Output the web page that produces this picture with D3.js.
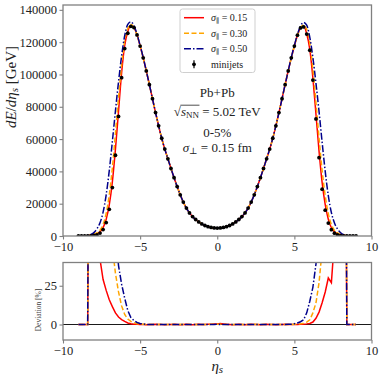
<!DOCTYPE html>
<html>
<head>
<meta charset="utf-8">
<script src="https://cdn.jsdelivr.net/npm/d3@7/dist/d3.min.js"></script>
<style>
body { margin: 0; background: #fff; }
svg text { font-family: "Liberation Serif", "DejaVu Serif", serif; fill: #222; }
</style>
</head>
<body>
<script>
"use strict";

/*global d3*/

// pseudorapidity grid shared by every series
var eta = [
    -9, -8.8, -8.6, -8.4, -8.2, -8, -7.8, -7.6, -7.4, -7.2, -7, -6.8, -6.6, -6.4, -6.2,
    -6, -5.8, -5.6, -5.4, -5.2, -5, -4.8, -4.6, -4.4, -4.2, -4, -3.8, -3.6, -3.4, -3.2,
    -3, -2.8, -2.6, -2.4, -2.2, -2, -1.8, -1.6, -1.4, -1.2, -1, -0.8, -0.6, -0.4, -0.2,
    0,
    0.2, 0.4, 0.6, 0.8, 1, 1.2, 1.4, 1.6, 1.8, 2, 2.2, 2.4, 2.6, 2.8, 3,
    3.2, 3.4, 3.6, 3.8, 4, 4.2, 4.4, 4.6, 4.8, 5, 5.2, 5.4, 5.6, 5.8, 6,
    6.2, 6.4, 6.6, 6.8, 7, 7.2, 7.4, 7.6, 7.8, 8, 8.2, 8.4, 8.6, 8.8, 9
],

    minijets = [
	0, 0, 0, 0, 100, 300, 750, 1800, 4000, 8300, 16500, 30000, 50000, 74000, 98000,
	116000, 125500, 129800, 129000, 124500, 117600, 110300, 102200, 93700, 85000, 76400, 68200, 60500, 53800, 47800,
	41800, 36100, 30600, 25500, 21000, 17300, 14300, 12000, 10200, 8700, 7500, 6500, 5800, 5300, 5000,
	4900,
	5000, 5300, 5800, 6500, 7500, 8700, 10200, 12000, 14300, 17300, 21000, 25500, 30600, 36100, 41800,
	47800, 53800, 60500, 68200, 76400, 85000, 93700, 102200, 110300, 117600, 124300, 128800, 129400, 125000, 115000,
	96500, 72500, 48500, 29000, 16000, 8000, 3900, 1750, 700, 280, 90, 0, 0, 0, 0
    ],

    sigma015 = [
	0, 0, 0, 100, 400, 900, 1400, 2600, 5200, 10300, 19200, 33500, 53800, 77300, 101000,
	118000, 126600, 130300, 129000, 124500, 117600, 110300, 102200, 93700, 85000, 76400, 68200, 60500, 53800, 47800,
	41800, 36100, 30600, 25500, 21000, 17300, 14300, 12000, 10200, 8700, 7500, 6500, 5800, 5300, 5000,
	4900,
	5000, 5300, 5800, 6500, 7500, 8700, 10200, 12000, 14300, 17300, 21000, 25500, 30600, 36100, 41800,
	47800, 53800, 60500, 68200, 76400, 85000, 93700, 102200, 110300, 117600, 124300, 128800, 129800, 125200, 115500,
	97800, 75400, 52400, 33000, 19400, 10400, 5100, 2600, 1400, 900, 400, 100, 0, 0, 0
    ],

    sigma030 = [
	0, 0, 0, 150, 500, 1100, 2000, 3600, 7200, 14000, 25500, 42000, 63500, 85500, 106000,
	121000, 128500, 131000, 129300, 124500, 117600, 110300, 102200, 93700, 85000, 76400, 68200, 60500, 53800, 47800,
	41800, 36100, 30600, 25500, 21000, 17300, 14300, 12000, 10200, 8700, 7500, 6500, 5800, 5300, 5000,
	4900,
	5000, 5300, 5800, 6500, 7500, 8700, 10200, 12000, 14300, 17300, 21000, 25500, 30600, 36100, 41800,
	47800, 53800, 60500, 68200, 76400, 85000, 93700, 102200, 110300, 117600, 124300, 129000, 130600, 127800, 119500,
	103500, 82500, 60500, 40500, 24800, 13800, 7000, 3500, 1900, 1100, 500, 150, 0, 0, 0
    ],

    sigma050 = [
	0, 0, 100, 350, 900, 2100, 4400, 8200, 14800, 25500, 40500, 58500, 77500, 95500, 111500,
	124000, 131000, 132600, 130200, 124800, 118000, 110500, 102200, 93700, 85000, 76400, 68200, 60500, 53800, 47800,
	41800, 36100, 30600, 25500, 21000, 17300, 14300, 12000, 10200, 8700, 7500, 6500, 5800, 5300, 5000,
	4900,
	5000, 5300, 5800, 6500, 7500, 8700, 10200, 12000, 14300, 17300, 21000, 25500, 30600, 36100, 41800,
	47800, 53800, 60500, 68200, 76400, 85000, 93700, 102200, 110500, 118000, 124800, 130000, 132200, 130500, 123000,
	110500, 94500, 77000, 58000, 40000, 25000, 14500, 8000, 4300, 2000, 850, 320, 90, 0, 0
    ],

    // deviation of each sigma_par curve from the minijets, in %
    dev015 = [
	0, 0, 0, 0, 350, 200, 90, 42, 29, 22, 16, 11.5, 7.5, 4.8, 3.2,
	2, 1, 0.5, 0.2, 0.1, 0, 0, -0.1, 0, 0, 0.1, 0, 0, -0.1, 0,
	0, 0.1, 0, -0.1, 0, 0.1, 0, -0.1, 0, 0.1, 0, 0, 0.1, 0.2, 0.3,
	0.4,
	0.6, 0.4, 0.1, 0, -0.1, 0, 0.1, 0, -0.1, 0, 0.1, 0, 0, -0.1, 0,
	0.1, 0, 0, -0.1, 0, 0, 0.1, 0, 0, 0, 0, 0.1, 0.2, 0.4, 0.7,
	1.6, 4, 8, 14, 21, 30, 27, 55, 110, 220, 350, 0, 0, 0, 0
    ],

    dev030 = [
	0, 0, 0, 0, 1500, 900, 400, 220, 140, 95, 70, 50, 33, 21, 12,
	6.5, 3.5, 2, 1.1, 0.5, 0.2, 0.1, 0, 0, 0, 0, 0, 0.1, 0, 0,
	0, 0, 0, 0.1, 0, 0, 0, 0, 0, 0, 0, 0, 0, 0.1, 0.1,
	0.2,
	0.2, 0.1, 0, 0, 0, 0, 0, 0, 0, 0, 0, 0.1, 0, 0, 0,
	0, 0, 0, 0, 0, 0, 0, 0, 0, 0.1, 0.2, 0.4, 0.8, 1.5, 3,
	7.5, 14, 27, 48, 80, 130, 200, 300, 450, 700, 1500, 0, 0, 0, 0
    ],

    dev050 = [
	0, 0, 0, 0, 2500, 1800, 1200, 800, 500, 300, 180, 100, 60, 38, 26,
	17, 9, 4.5, 2.5, 1.3, 0.7, 0.3, 0.1, 0, 0, 0, 0, 0, 0, 0,
	0, 0, 0, 0, 0, 0, 0, 0, 0, 0, 0, 0, 0, 0, 0,
	0.1,
	0, 0, 0, 0, 0, 0, 0, 0, 0, 0, 0, 0, 0, 0, 0,
	0, 0, 0, 0, 0, 0, 0, 0.1, 0.2, 0.5, 1, 1.8, 3, 7.5, 15,
	24, 39, 62, 100, 160, 250, 380, 550, 800, 1200, 2500, 0, 0, 0, 0
    ],

    xTicks = [-10, -5, 0, 5, 10],
    yTicks = [0, 20000, 40000, 60000, 80000, 100000, 120000, 140000],
    devTicks = [0, 25],

    width = 382,
    height = 377,
    plotLeft = 63,
    plotRight = 371.5,
    spineColour = "#808080",

    series = [
	{label: "0.15", values: sigma015, deviation: dev015, colour: "#ff0000", dash: null},
	{label: "0.30", values: sigma030, deviation: dev030, colour: "#ffa500", dash: "5,2.5"},
	{label: "0.50", values: sigma050, deviation: dev050, colour: "#00008b", dash: "7,2,1.5,2"}
    ];

var svg = d3.select("body").append("svg")
	.attr("width", width)
	.attr("height", height);

var x = d3.scaleLinear().domain([-10, 10]).range([plotLeft, plotRight]),
    yTop = d3.scaleLinear().domain([0, 143000]).range([236, 5]),
    yDev = d3.scaleLinear().domain([-10, 40]).range([340, 262.5]);

/*
 Writes a piece of math-ish text: each part is [string, style] where style is
 "i" (italic), "sub" (subscript), "subi" (italic subscript) or "" (upright).
 */
var mathText = function(textSel, parts, subSize) {
    parts.forEach(function(p) {
	var t = textSel.append("tspan").text(p[0]);
	if (p[1] === "i" || p[1] === "subi") {
	    t.attr("font-style", "italic");
	}
	if (p[1] === "sub" || p[1] === "subi") {
	    t.attr("baseline-shift", "-22%")
		.attr("font-size", subSize);
	}
    });
    return textSel;
};

var minus = function(d) {
    return d < 0 ? "\u2212" + Math.abs(d) : String(d);
};

var makePanel = function(name, yScale, yTickValues) {
    var g = svg.append("g").attr("class", name),
	y0 = yScale.range()[1],
	y1 = yScale.range()[0];

    svg.append("clipPath")
	.attr("id", "clip-" + name)
	.append("rect")
	.attr("x", plotLeft)
	.attr("y", y0)
	.attr("width", plotRight - plotLeft)
	.attr("height", y1 - y0);

    var yAxis = g.append("g")
	    .attr("transform", "translate(" + plotLeft + ",0)")
	    .call(d3.axisLeft(yScale)
		  .tickValues(yTickValues)
		  .tickSize(3.5)
		  .tickPadding(2.5)
		  .tickFormat(d3.format("d")));

    var xAxis = g.append("g")
	    .attr("transform", "translate(0," + y1 + ")")
	    .call(d3.axisBottom(x)
		  .tickValues(xTicks)
		  .tickSize(3.5)
		  .tickPadding(3)
		  .tickFormat(minus));

    [xAxis, yAxis].forEach(function(a) {
	a.attr("color", "#222");
	a.select(".domain").remove();
	a.selectAll(".tick line").attr("stroke", spineColour).attr("stroke-width", 1.1);
	a.selectAll(".tick text")
	    .attr("font-size", 12.5)
	    .attr("font-family", "Liberation Serif, serif")
	    .attr("fill", "#222");
    });

    var plot = g.append("g").attr("clip-path", "url(#clip-" + name + ")");

    g.append("rect")
	.attr("x", plotLeft)
	.attr("y", y0)
	.attr("width", plotRight - plotLeft)
	.attr("height", y1 - y0)
	.attr("fill", "none")
	.attr("stroke", spineColour)
	.attr("stroke-width", 1.3);

    return plot;
};

// upper panel: dE/deta
var energyPlot = makePanel("energy", yTop, yTicks);

var energyLine = function(values) {
    return d3.line()
	.x(function(d, i) { return x(eta[i]); })
	.y(function(d) { return yTop(d); })
	.curve(d3.curveMonotoneX)(values);
};

series.forEach(function(s) {
    energyPlot.append("path")
	.attr("d", energyLine(s.values))
	.attr("fill", "none")
	.attr("stroke", s.colour)
	.attr("stroke-width", 1.5)
	.attr("stroke-dasharray", s.dash);
});

energyPlot.selectAll("circle.minijet")
    .data(minijets)
    .enter().append("circle")
    .attr("class", "minijet")
    .attr("cx", function(d, i) { return x(eta[i]); })
    .attr("cy", function(d) { return yTop(d); })
    .attr("r", 1.9)
    .attr("fill", "#000");

// lower panel: deviation
var devPlot = makePanel("deviation", yDev, devTicks);

devPlot.append("line")
    .attr("x1", plotLeft)
    .attr("x2", plotRight)
    .attr("y1", yDev(0))
    .attr("y2", yDev(0))
    .attr("stroke", "#000")
    .attr("stroke-width", 0.9);

var devLine = d3.line()
	.x(function(d, i) { return x(eta[i]); })
	.y(function(d) { return yDev(Math.min(d, 400)); });

series.forEach(function(s) {
    devPlot.append("path")
	.attr("d", devLine(s.deviation))
	.attr("fill", "none")
	.attr("stroke", s.colour)
	.attr("stroke-width", 1.5)
	.attr("stroke-dasharray", s.dash);
});

// axis labels
mathText(svg.append("text")
	 .attr("transform", "translate(16,87) rotate(-90)")
	 .attr("text-anchor", "middle")
	 .attr("font-size", 15),
	 [["dE", "i"], ["/", ""], ["d\u03b7", "i"], ["s", "subi"], [" [GeV]", ""]], 11);

svg.append("text")
    .attr("transform", "translate(41,310) rotate(-90)")
    .attr("text-anchor", "middle")
    .attr("font-size", 7.5)
    .style("fill", "#444")
    .text("Deviation [%]");

mathText(svg.append("text")
	 .attr("x", x(0))
	 .attr("y", 371)
	 .attr("text-anchor", "middle")
	 .attr("font-size", 15),
	 [["\u03b7", "i"], ["s", "subi"]], 11);

// legend
var legend = svg.append("g").attr("class", "legend"),
    rowY = [17.7, 33.3, 48.7, 64.3];

legend.append("rect")
    .attr("x", 180)
    .attr("y", 9)
    .attr("width", 75)
    .attr("height", 63.5)
    .attr("rx", 2.5)
    .attr("fill", "#fff")
    .attr("fill-opacity", 0.8)
    .attr("stroke", "#cfcfcf")
    .attr("stroke-width", 1);

series.forEach(function(s, i) {
    legend.append("line")
	.attr("x1", 184)
	.attr("x2", 204)
	.attr("y1", rowY[i])
	.attr("y2", rowY[i])
	.attr("stroke", s.colour)
	.attr("stroke-width", 1.5)
	.attr("stroke-dasharray", s.dash);

    mathText(legend.append("text")
	     .attr("x", 211)
	     .attr("y", rowY[i] + 3.3)
	     .attr("font-size", 10),
	     [["\u03c3", "i"], ["\u2225", "sub"], [" = " + s.label, ""]], 7);
});

legend.append("line")
    .attr("x1", 194)
    .attr("x2", 194)
    .attr("y1", rowY[3] - 4)
    .attr("y2", rowY[3] + 4)
    .attr("stroke", "#000")
    .attr("stroke-width", 1.2);

legend.append("circle")
    .attr("cx", 194)
    .attr("cy", rowY[3])
    .attr("r", 1.9)
    .attr("fill", "#000");

legend.append("text")
    .attr("x", 211)
    .attr("y", rowY[3] + 3.3)
    .attr("font-size", 10)
    .text("minijets");

// annotation
var note = svg.append("g").attr("class", "note");

note.append("text")
    .attr("x", x(0))
    .attr("y", 96.5)
    .attr("text-anchor", "middle")
    .attr("font-size", 13)
    .text("Pb+Pb");

var sqrtText = mathText(note.append("text")
			.attr("x", x(0))
			.attr("y", 116)
			.attr("text-anchor", "middle")
			.attr("font-size", 13),
			[["\u221a", ""], ["s", "i"], ["NN", "sub"], [" = 5.02 TeV", ""]], 9);

var sqrtNode = sqrtText.node();
note.append("line")
    .attr("x1", sqrtNode.getStartPositionOfChar(1).x - 0.5)
    .attr("x2", sqrtNode.getEndPositionOfChar(3).x + 0.5)
    .attr("y1", 116 - 10.8)
    .attr("y2", 116 - 10.8)
    .attr("stroke", "#222")
    .attr("stroke-width", 0.8);

note.append("text")
    .attr("x", x(0))
    .attr("y", 136.5)
    .attr("text-anchor", "middle")
    .attr("font-size", 13)
    .text("0-5%");

mathText(note.append("text")
	 .attr("x", x(0))
	 .attr("y", 151.5)
	 .attr("text-anchor", "middle")
	 .attr("font-size", 13),
	 [["\u03c3", "i"], ["\u22a5", "sub"], [" = 0.15 fm", ""]], 9);
</script>
</body>
</html>
